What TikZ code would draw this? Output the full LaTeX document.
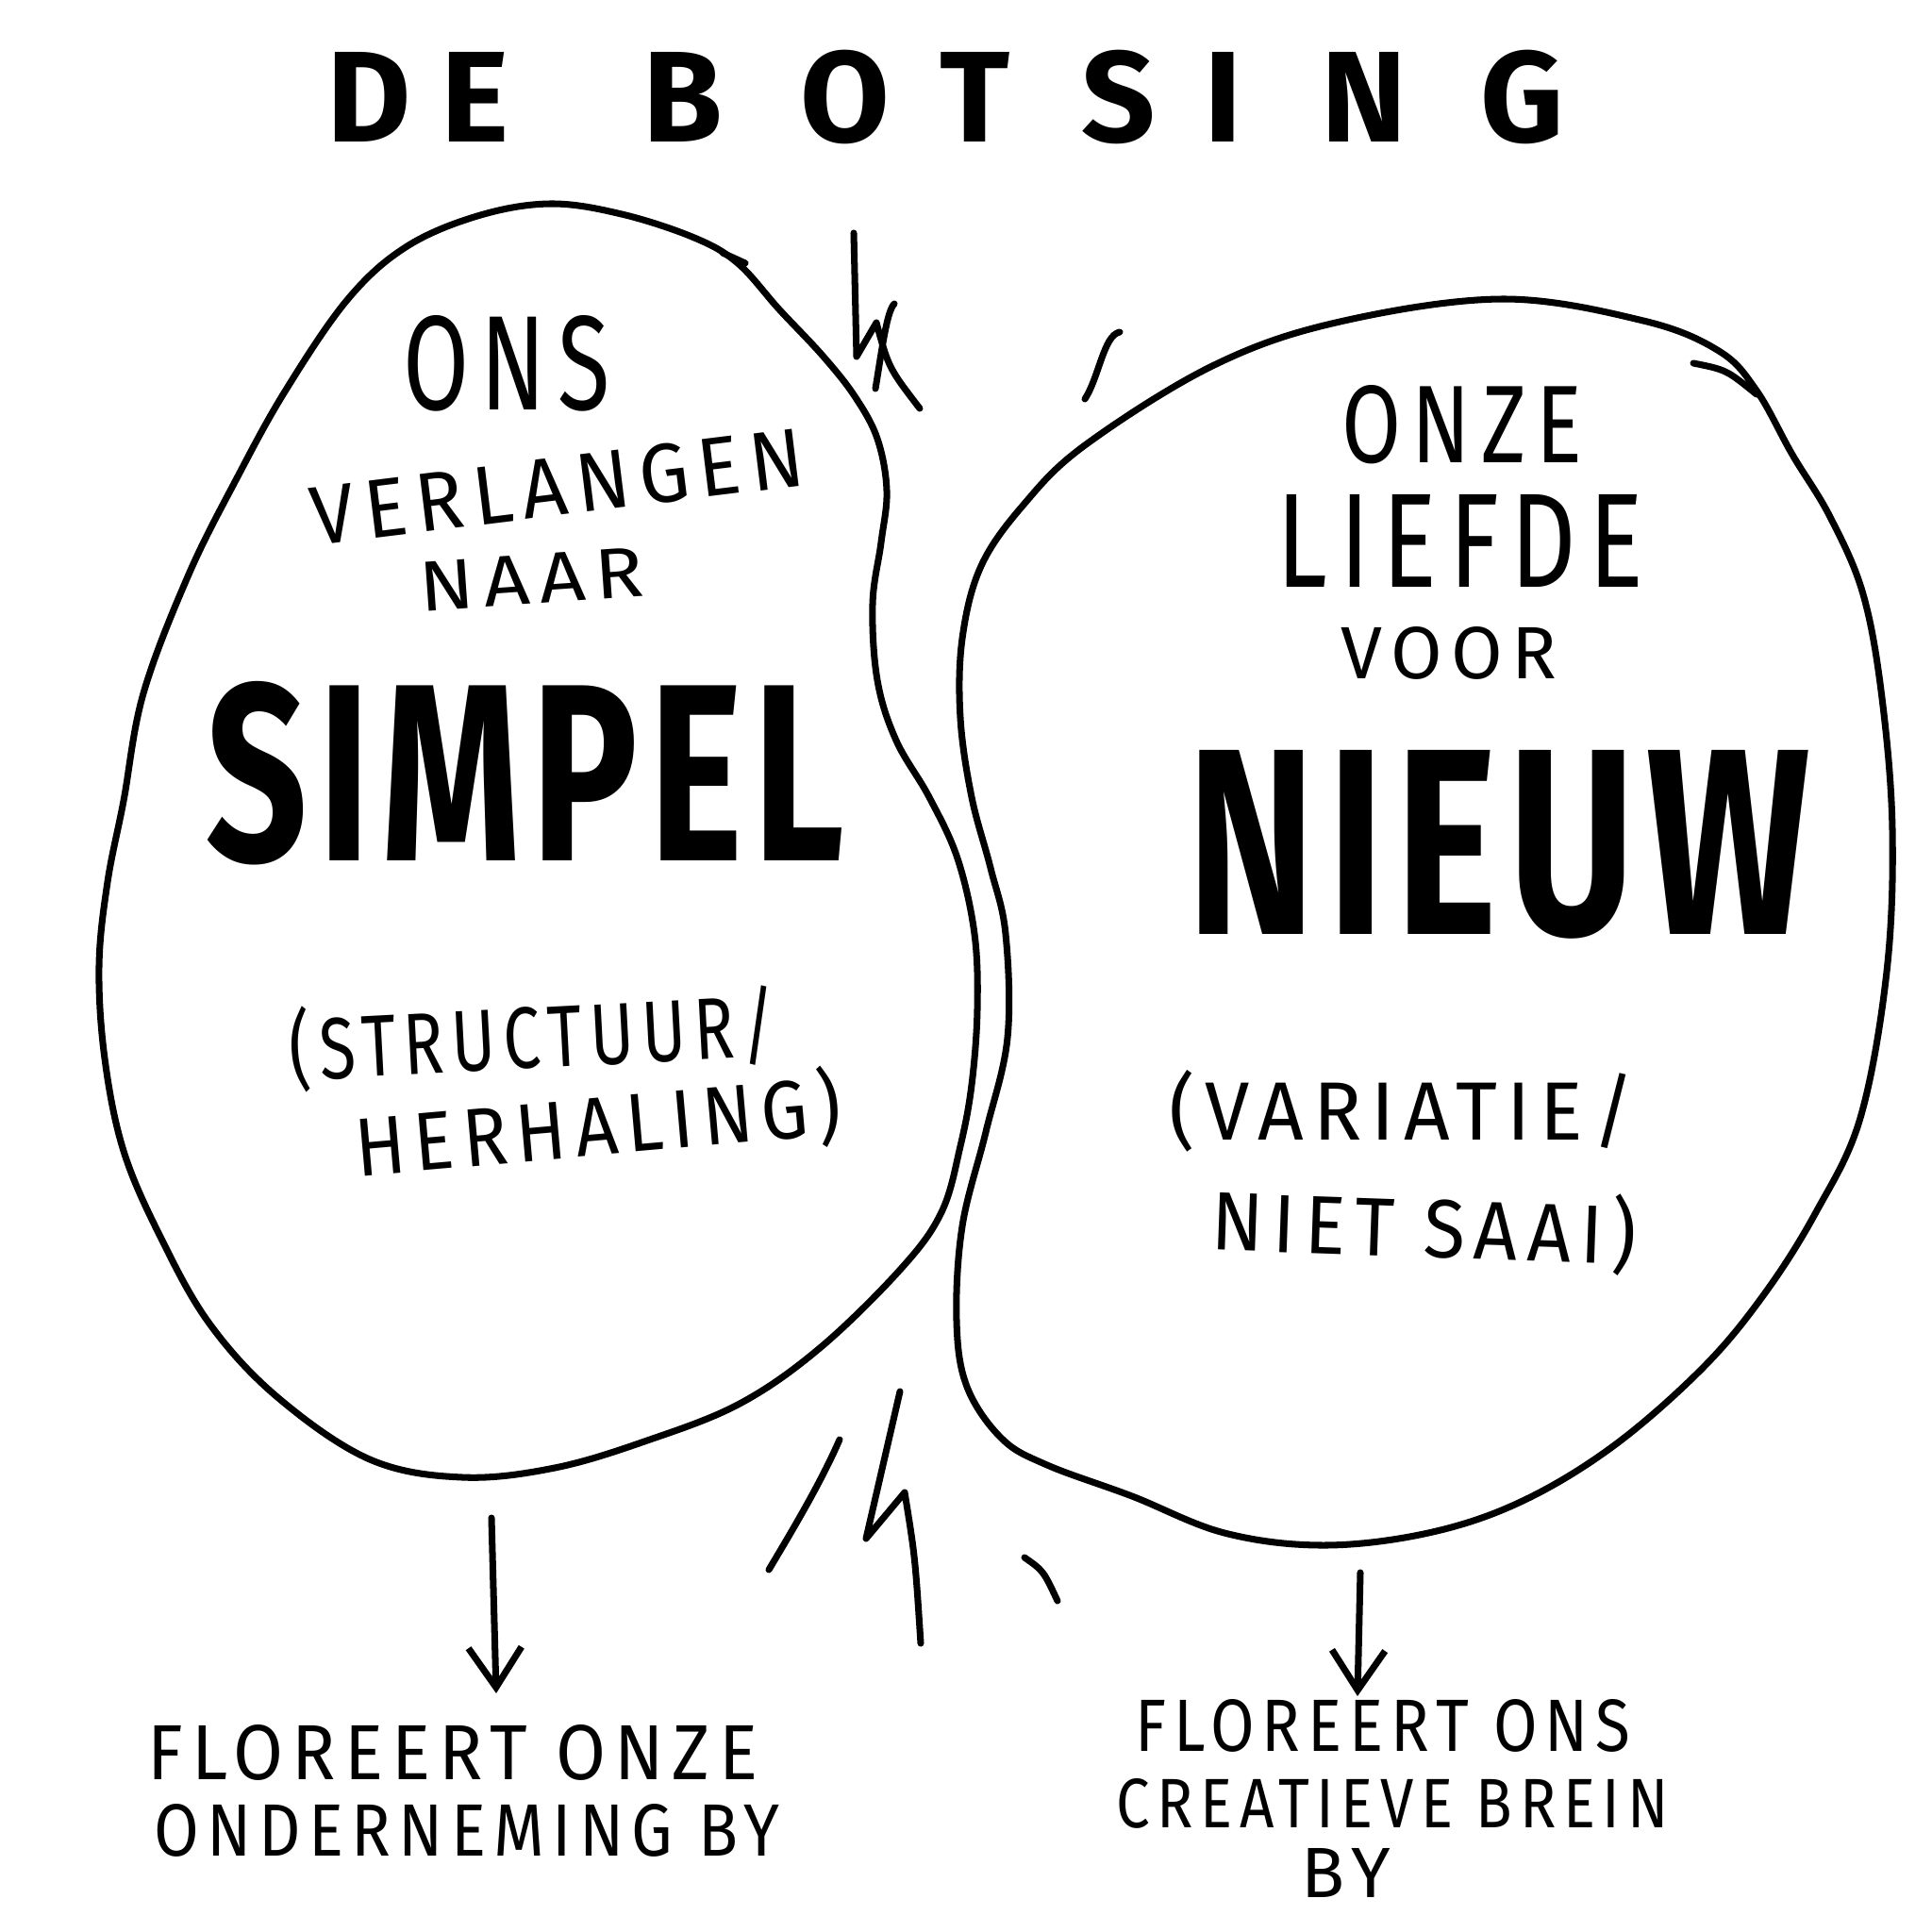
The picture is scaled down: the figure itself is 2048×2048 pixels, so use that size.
\documentclass[tikz,border=0pt]{standalone}
\usepackage{fontspec}
\setmainfont{Fira Sans}
\usepackage{graphicx}
\usetikzlibrary{arrows.meta}
\tikzset{
  blob/.style={line width=2pt, line join=round, line cap=round},
  stroke/.style={line width=2pt, line cap=round, line join=round},
  pointer/.style={stroke, -{Straight Barb[length=12pt,width=16pt,line width=2pt]}},
  lbl/.style={inner sep=0pt, anchor=center}
}
\newcommand{\fitt}[3]{\resizebox{#1cm}{#2cm}{\addfontfeatures{LetterSpace=12}#3}}
\newcommand{\fitb}[3]{\resizebox{#1cm}{#2cm}{\bfseries\addfontfeatures{LetterSpace=6}#3}}
\newcommand{\tl}[1]{\makebox[0pt]{#1}}
\begin{document}
\begin{tikzpicture}[x=0.01cm,y=-0.01cm]
\useasboundingbox (0,0) rectangle (2048,2048);
\fill[white] (0,0) rectangle (2048,2048);

% title
\node[inner sep=0pt, anchor=base west] (title) at (390,150) {\fontsize{39pt}{39pt}\selectfont\bfseries
 \tl{D}\hspace{1.13cm}\tl{E}\hspace{2.20cm}\tl{B}\hspace{1.72cm}\tl{O}\hspace{1.37cm}\tl{T}\hspace{1.53cm}\tl{S}\hspace{1.10cm}\tl{I}\hspace{1.50cm}\tl{N}\hspace{1.67cm}\tl{G}};

% left blob
\draw[blob] plot[smooth cycle, tension=0.6] coordinates {
(583,216) (659,227) (736,252) (782,279) (826,328) (872,377) (906,420) (930,465)
(940,520) (934,575) (925,640) (930,721) (950,785) (985,845) (1015,910) (1033,990)
(1036,1070) (1030,1150) (1018,1215) (998,1285) (955,1345) (869,1429) (784,1488) (686,1527)
(588,1556) (490,1566) (392,1547) (294,1481) (222,1403) (170,1311) (131,1220) (111,1122)
(105,1024) (114,935) (131,849) (152,735) (200,609) (251,507) (302,415)
(368,318) (430,262) (506,229)};
\draw[stroke] (766,268) -- (790,279);

% right blob
\draw[blob] plot[smooth cycle, tension=0.6] coordinates {
(1592,317) (1742,340) (1822,372) (1862,414) (1900,482) (1940,548) (1975,630) (1995,740)
(2006,880) (2000,1030) (1972,1185) (1925,1285) (1870,1372) (1805,1450) (1710,1533) (1612,1592)
(1514,1625) (1403,1638) (1298,1625) (1200,1586) (1110,1553) (1062,1525) (1025,1470) (1014,1400)
(1020,1300) (1045,1200) (1068,1100) (1066,990) (1050,920) (1030,845) (1018,761) (1020,677)
(1040,600) (1085,535) (1150,472) (1285,388) (1416,342)};
\draw[stroke] (1795,385) .. controls (1830,392) .. (1862,418);

% collision strokes top
\draw[stroke] (905,247) -- (908,378) -- (929,342) .. controls (942,390) .. (975,433);
\draw[stroke] (948,322) .. controls (940,330) and (935,370) .. (928,412);
\draw[stroke] (1187,352) .. controls (1170,355) and (1165,400) .. (1150,423);
% collision strokes bottom
\draw[stroke] (890,1526) .. controls (870,1572) and (840,1622) .. (815,1664);
\draw[stroke] (954,1475) -- (918,1631) -- (959,1582) .. controls (970,1650) .. (976,1742);
\draw[stroke] (1086,1651) .. controls (1106,1665) .. (1121,1697);

% left texts
\node[lbl] (ons) at (537,385) {\fitt{2.19}{1.0}{ONS}};
\node[lbl, rotate=7] (verlangen) at (591,516) {\fitt{5.25}{0.62}{VERLANGEN}};
\node[lbl, rotate=4] (naar) at (563,614) {\fitt{2.38}{0.52}{NAAR}};
\node[lbl] (simpel) at (557,820) {\fitb{6.76}{1.9}{SIMPEL}};
\node[lbl, rotate=3] (structuur) at (565,1100) {\fitt{5.16}{0.78}{(STRUCTUUR/}};
\node[lbl, rotate=5] (herhaling) at (634,1194) {\fitt{5.16}{0.74}{HERHALING)}};

% right texts
\node[lbl] (onze) at (1550,450) {\fitt{2.55}{0.82}{ONZE}};
\node[lbl] (liefde) at (1548,573) {\fitt{3.88}{0.98}{LIEFDE}};
\node[lbl] (voor) at (1536,692) {\fitt{2.29}{0.55}{VOOR}};
\node[lbl] (nieuw) at (1589,895) {\fitb{6.6}{1.95}{NIEUW}};
\node[lbl] (variatie) at (1486,1178) {\fitt{4.93}{0.74}{(VARIATIE/}};
\node[lbl, rotate=-2] (saai) at (1510,1302) {\fitt{4.5}{0.74}{NIET SAAI)}};

% arrows
\coordinate (la) at (521,1609);
\coordinate (lb) at (526,1795);
\coordinate (ra) at (1442,1667);
\coordinate (rb) at (1439,1798);
\draw[pointer] (la) -- (lb);
\draw[pointer] (ra) -- (rb);

% bottom texts
\node[lbl] (fl1) at (480,1858) {\fitt{6.46}{0.58}{FLOREERT ONZE}};
\node[lbl] (fl2) at (495,1940) {\fitt{6.63}{0.55}{ONDERNEMING BY}};
\node[lbl] (fr1) at (1466,1829) {\fitt{5.25}{0.55}{FLOREERT ONS}};
\node[lbl] (fr2) at (1476,1912) {\fitt{5.85}{0.52}{CREATIEVE BREIN}};
\node[lbl] (fr3) at (1427,1985) {\fitt{0.95}{0.52}{BY}};
\end{tikzpicture}
\end{document}
